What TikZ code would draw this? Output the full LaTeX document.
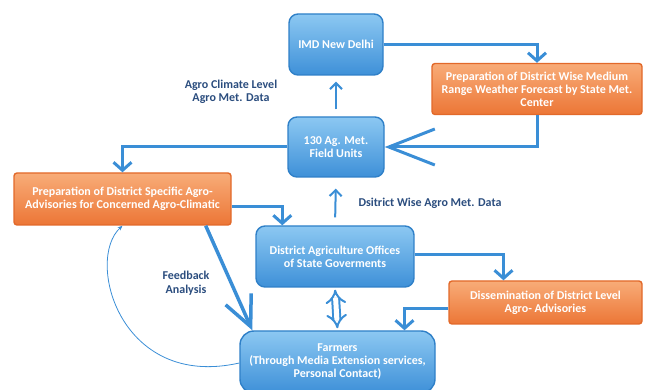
\documentclass[tikz,border=0pt]{standalone}
\usepackage{fontspec}
\setmainfont{Carlito}
\usetikzlibrary{positioning, arrows.meta}

\definecolor{boxtop}{HTML}{8CC8F2}
\definecolor{boxbot}{HTML}{3E90D8}
\definecolor{boxedge}{HTML}{2F80C8}
\definecolor{ortop}{HTML}{F8AC78}
\definecolor{orbot}{HTML}{EC7636}
\definecolor{oredge}{HTML}{E2692A}
\definecolor{linkblue}{HTML}{3A8ED6}
\definecolor{labnavy}{HTML}{2B4D7E}

\begin{document}
\begin{tikzpicture}[x=1pt, y=-1pt,
    bluebox/.style={draw=boxedge, line width=1.4pt, rounded corners=9pt,
        top color=boxtop, bottom color=boxbot, text=white, align=center,
        font=\bfseries\fontsize{12}{13}\selectfont, inner sep=1pt},
    orbox/.style={draw=oredge, line width=1.4pt, rounded corners=3pt,
        top color=ortop, bottom color=orbot, text=white, align=center,
        font=\bfseries\fontsize{12}{13}\selectfont, inner sep=1pt},
    link/.style={draw=linkblue, line width=3pt,
        -{Straight Barb[length=8pt, width=18pt]}},
    uplink/.style={draw=linkblue, line width=2pt,
        -{Straight Barb[length=6pt, width=12pt]}},
    lab/.style={text=labnavy, align=center,
        font=\bfseries\fontsize{12}{13.5}\selectfont}]
    \useasboundingbox (0,0) rectangle (646,390);

    % boxes
    \node[bluebox, minimum width=94pt, minimum height=61pt] (IMD) at (336,44.5) {IMD New Delhi};
    \node[orbox, minimum width=210pt, minimum height=51pt] (MRF) at (537,89)
        {Preparation of District Wise Medium\\Range Weather Forecast by State Met.\\Center};
    \node[bluebox, minimum width=96pt, minimum height=60pt] (AMF) at (336,147) {130 Ag. Met.\\Field Units};
    \node[orbox, minimum width=217pt, minimum height=52pt] (ADV) at (122.5,199)
        {Preparation of District Specific Agro-\\Advisories for Concerned Agro-Climatic};
    \node[bluebox, minimum width=158pt, minimum height=61pt] (DAO) at (335,256.5)
        {District Agriculture Offices\\of State Goverments};
    \node[orbox, minimum width=193pt, minimum height=43pt] (DIS) at (545.5,302.5)
        {Dissemination of District Level\\Agro- Advisories};
    \node[bluebox, minimum width=195pt, minimum height=62pt, rounded corners=14pt] (FRM) at (337.5,362)
        {Farmers\\(Through Media Extension services,\\Personal Contact)};

    % labels
    \node[lab] (lclim) at (231,92) {Agro Climate Level\\Agro Met. Data};
    \node[lab] (ldist) at (430,203) {Dsitrict Wise Agro Met. Data};
    \node[lab] (lfeed) at (186,283) {Feedback\\Analysis};

    % connectors
    \draw[link] (IMD.east) -| (MRF.north);
    \draw[draw=linkblue, line width=3pt,
        -{Straight Barb[length=46pt, width=36pt]}] (MRF.south) |- (AMF.east);
    \draw[uplink, shorten <=7pt, shorten >=6pt] (AMF.north) -- (IMD.south);
    \draw[link] (AMF.west) -| (ADV.north);
    \draw[uplink, shorten <=8pt, shorten >=11pt] (DAO.north) -- (AMF.south);
    \draw[link] ([yshift=-8pt]ADV.east) -| ([xshift=27pt]DAO.north west);
    \draw[draw=linkblue, line width=3.5pt,
        -{Straight Barb[length=30pt, width=28pt]}] ([xshift=-26pt]ADV.south east) -- ([xshift=13pt]FRM.north west);
    \draw[draw=linkblue, line width=0.8pt, -{Stealth[length=5pt, width=4pt]}]
        ([yshift=-1pt]FRM.west) .. controls (120,390) and (85,260) .. (ADV.south);
    \draw[draw=linkblue, line width=2pt, double=white, double distance=5pt,
        {Implies}-{Implies}, shorten <=2pt, shorten >=2pt] (DAO.south) -- (FRM.north);
    \draw[link] ([yshift=2pt]DAO.east) -| ([xshift=-42pt]DIS.north);
    \draw[link] ([yshift=-6pt]DIS.west) -| ([xshift=67pt]FRM.north);
\end{tikzpicture}
\end{document}
